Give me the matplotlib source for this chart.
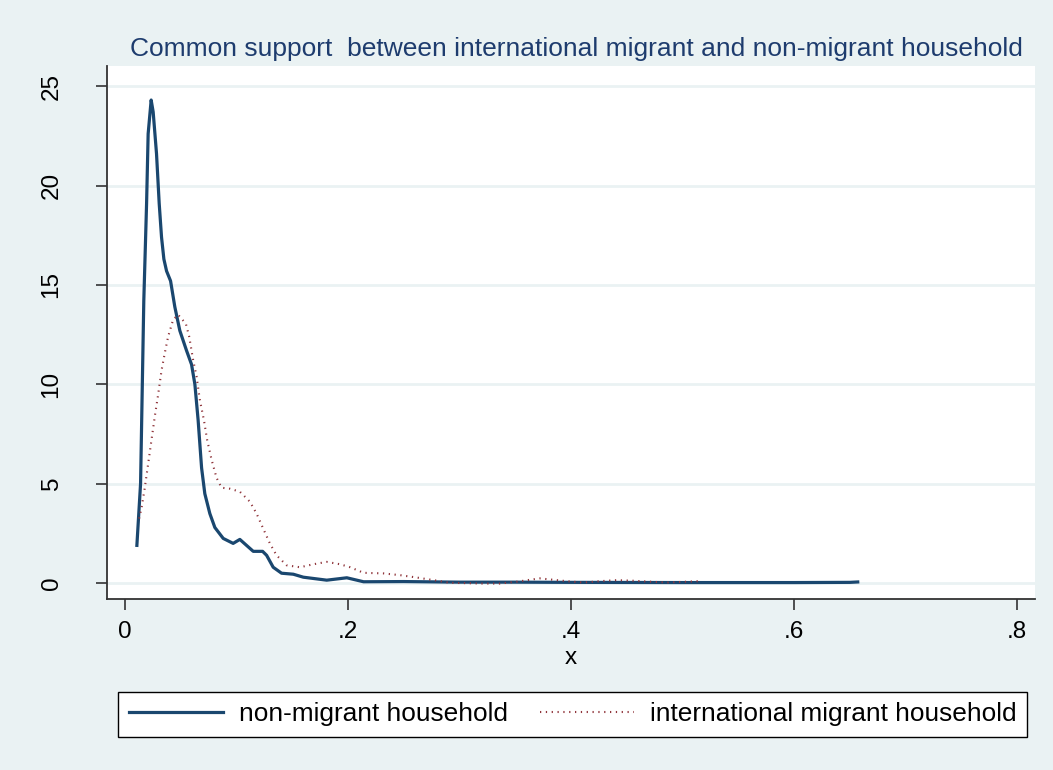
import matplotlib.pyplot as plt

x_non = [0.0108, 0.0141, 0.017, 0.0195, 0.0209, 0.0236, 0.0254, 0.0284, 0.0308, 0.0329,
         0.035, 0.0374, 0.041, 0.0448, 0.0493, 0.0553, 0.0598, 0.0628, 0.0657, 0.0688,
         0.0717, 0.0762, 0.0807, 0.0882, 0.0971, 0.1031, 0.1091, 0.1151, 0.1235, 0.1271,
         0.133, 0.1405, 0.151, 0.16, 0.181, 0.199, 0.214, 0.25, 0.3, 0.35, 0.4, 0.5,
         0.6, 0.65, 0.657]
y_non = [1.9, 5.0, 14.2, 19.1, 22.6, 24.3, 23.7, 21.6, 19.1, 17.4,
         16.3, 15.7, 15.2, 13.9, 12.7, 11.7, 11.0, 10.0, 8.2, 5.8,
         4.5, 3.5, 2.8, 2.25, 2.0, 2.2, 1.9, 1.6, 1.6, 1.4,
         0.8, 0.5, 0.45, 0.3, 0.15, 0.27, 0.07, 0.08, 0.05, 0.05, 0.04, 0.03,
         0.03, 0.04, 0.06]

x_int = [0.0128, 0.015, 0.0179, 0.0209, 0.0239, 0.0269, 0.0299, 0.0329, 0.0359, 0.0388,
         0.0433, 0.0478, 0.0547, 0.0577, 0.0613, 0.0643, 0.0673, 0.0709, 0.0738, 0.0778,
         0.0822, 0.0867, 0.0942, 0.1031, 0.1121, 0.1181, 0.124, 0.130, 0.136, 0.145,
         0.157, 0.169, 0.181, 0.193, 0.202, 0.214, 0.232, 0.247, 0.262, 0.277,
         0.291, 0.321, 0.336, 0.351, 0.372, 0.396, 0.411, 0.426, 0.441, 0.456,
         0.486, 0.514]
y_int = [3.25, 3.8, 4.8, 6.0, 7.2, 8.4, 9.5, 10.7, 11.6, 12.4,
         13.25, 13.5, 13.05, 12.4, 11.2, 10.4, 9.2, 8.2, 7.2, 6.2,
         5.3, 4.8, 4.75, 4.6, 4.1, 3.5, 2.75, 2.0, 1.4, 0.9,
         0.8, 0.95, 1.07, 0.95, 0.8, 0.52, 0.49, 0.4, 0.28, 0.15,
         0.02, -0.02, -0.02, 0.07, 0.24, 0.1, 0.03, 0.1, 0.15, 0.12,
         0.03, 0.1]

xticks = [0, 0.2, 0.4, 0.6, 0.8]
xtick_labels = ['0', '.2', '.4', '.6', '.8']
yticks = [0, 5, 10, 15, 20, 25]

bg = '#eaf2f3'
navy = '#1a476f'
maroon = '#90353b'

plt.rcParams['font.family'] = ['Liberation Sans', 'DejaVu Sans']

fig = plt.figure(figsize=(10.53, 7.70), dpi=100, facecolor=bg)
ax = fig.add_axes([0.1016, 0.222, 0.8814, 0.692])
ax.set_facecolor('white')

ax.plot(x_non, y_non, color=navy, lw=2.3, label='non-migrant household')
ax.plot(x_int, y_int, color=maroon, lw=1.5, ls=(0, (0.6, 2.2)),
        label='international migrant household')

ax.set_xlim(-0.016, 0.816)
ax.set_ylim(-0.8, 26.0)
ax.set_xticks(xticks)
ax.set_xticklabels(xtick_labels)
ax.set_yticks(yticks)
ax.set_yticklabels([str(v) for v in yticks], rotation=90, va='center')
ax.tick_params(axis='both', direction='out', length=8, width=1.2, color='#333333',
               labelsize=17.5, labelcolor='black')
ax.tick_params(axis='x', pad=8)
ax.tick_params(axis='y', pad=24)
ax.grid(axis='y', color=bg, lw=2)
ax.set_axisbelow(True)

for side in ['top', 'right']:
    ax.spines[side].set_visible(False)
for side in ['left', 'bottom']:
    ax.spines[side].set_color('#333333')
    ax.spines[side].set_linewidth(1.3)

ax.set_xlabel('x', fontsize=17.5, labelpad=3)
fig.text(0.547, 0.937, 'Common support  between international migrant and non-migrant household',
         ha='center', va='center', fontsize=19, color='#1e3c6e')

leg = fig.legend(loc='lower left', bbox_to_anchor=(118 / 1053, 1 - 737 / 770, 909 / 1053, 51 / 770),
                 mode='expand', ncol=2, fontsize=18.9, frameon=True, fancybox=False,
                 edgecolor='black', handlelength=3.6, handletextpad=0.6,
                 columnspacing=0.6, borderpad=0.4, borderaxespad=0)
leg.get_frame().set_linewidth(1.0)
leg.get_frame().set_facecolor('white')
leg.get_frame().set_alpha(1)

fig.savefig('out.png', dpi=100, facecolor=bg)
